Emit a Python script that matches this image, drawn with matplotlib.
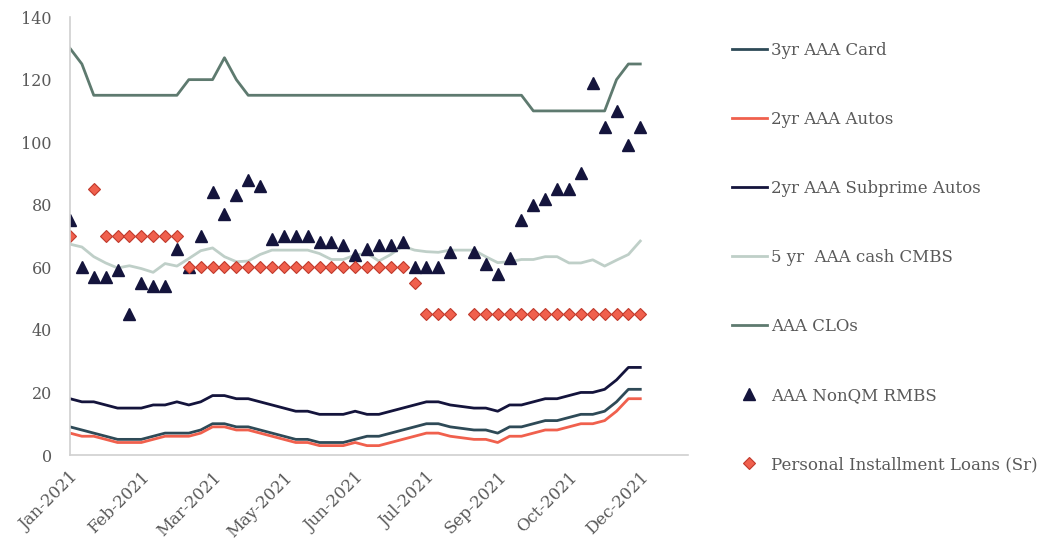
import numpy as np
import pandas as pd
import matplotlib
matplotlib.use("Agg")
import matplotlib.pyplot as plt

plt.rcParams['font.family'] = ['DejaVu Serif']

# weekly observations, Jan-2021 .. Dec-2021
dates = pd.date_range('2021-01-01', periods=49, freq='7D')
nan = np.nan

card_3yr = [9, 8, 7, 6, 5, 5, 5, 6, 7, 7, 7, 8, 10, 10, 9, 9, 8, 7, 6, 5, 5, 4, 4, 4, 5, 6,
            6, 7, 8, 9, 10, 10, 9, 8.5, 8, 8, 7, 9, 9, 10, 11, 11, 12, 13, 13, 14, 17, 21, 21]
autos_2yr = [7, 6, 6, 5, 4, 4, 4, 5, 6, 6, 6, 7, 9, 9, 8, 8, 7, 6, 5, 4, 4, 3, 3, 3, 4, 3,
             3, 4, 5, 6, 7, 7, 6, 5.5, 5, 5, 4, 6, 6, 7, 8, 8, 9, 10, 10, 11, 14, 18, 18]
subprime_2yr = [18, 17, 17, 16, 15, 15, 15, 16, 16, 17, 16, 17, 19, 19, 18, 18, 17, 16, 15, 14, 14, 13, 13, 13, 14, 13,
                13, 14, 15, 16, 17, 17, 16, 15.5, 15, 15, 14, 16, 16, 17, 18, 18, 19, 20, 20, 21, 24, 28, 28]
cmbs_5yr = [67.4, 66.5, 63.4, 61.4, 59.8, 60.5, 59.6, 58.4, 61.2, 60.4, 62.8, 65.3, 66.2, 63.4, 61.8, 62, 64.1,
            65.5, 65.5, 65.5, 65.5, 64.4, 62.5, 62.5, 63.9, 64.5, 62, 64.1, 66.8, 65.5, 65, 64.8, 65.5, 65.5,
            65.5, 63.4, 61.5, 61.8, 62.5, 62.5, 63.4, 63.4, 61.4, 61.4, 62.4, 60.4, 62.3, 64.1, 68.4]
clos = [130, 125, 115, 115, 115, 115, 115, 115, 115, 115, 120, 120, 120, 127, 120,
        115, 115, 115, 115, 115, 115, 115, 115, 115, 115, 115, 115, 115, 115, 115, 115, 115,
        115, 115, 115, 115, 115, 115, 115, 110, 110, 110, 110, 110, 110, 110, 120, 125, 125]
nonqm_rmbs = [75, 60, 57, 57, 59, 45, 55, 54, 54, 66, 60, 70, 84, 77, 83, 88, 86, 69, 70, 70, 70, 68, 68, 67, 64, 66,
              67, 67, 68, 60, 60, 60, 65, nan, 65, 61, 58, 63, 75, 80, 82, 85, 85, 90, 119, 105, 110, 99, 105]
pil_sr = [70, nan, 85, 70, 70, 70, 70, 70, 70, 70, 60, 60, 60, 60, 60, 60, 60, 60, 60, 60, 60, 60, 60, 60, 60, 60,
          60, 60, 60, 55, 45, 45, 45, nan, 45, 45, 45, 45, 45, 45, 45, 45, 45, 45, 45, 45, 45, 45, 45]

tick_idx = list(range(0, 49, 6))
tick_labels = [d.strftime('%b-%Y') for d in dates[tick_idx]]

x = np.arange(len(dates))
grey = '#595959'

fig = plt.figure(figsize=(10.48, 5.42), dpi=100)
ax = fig.add_axes([0.0668, 0.1605, 0.5895, 0.808])

ax.plot(x, card_3yr, color='#2E4A57', lw=2, label='3yr AAA Card')
ax.plot(x, autos_2yr, color='#F0604D', lw=2, label='2yr AAA Autos')
ax.plot(x, subprime_2yr, color='#14143C', lw=2, label='2yr AAA Subprime Autos')
ax.plot(x, cmbs_5yr, color='#BFCFC8', lw=2, label='5 yr  AAA cash CMBS')
ax.plot(x, clos, color='#5E7A6F', lw=2, label='AAA CLOs')
ax.plot(x, nonqm_rmbs, ls='none', marker='^', ms=9, color='#14143C', label='AAA NonQM RMBS')
ax.plot(x, pil_sr, ls='none', marker='D', ms=6.5, mfc='#F0604D', mec='#C0392B', mew=0.8,
        label='Personal Installment Loans (Sr)')

ax.set_xlim(0, 52)
ax.set_ylim(0, 140)
ax.set_yticks(range(0, 141, 20))
ax.set_xticks(tick_idx)
ax.set_xticklabels(tick_labels, rotation=45, ha='right', rotation_mode='anchor')
ax.tick_params(length=0, colors=grey)
ax.tick_params(axis='x', labelsize=12, pad=10)
ax.tick_params(axis='y', labelsize=11.5, pad=13)
for s in ['top', 'right']:
    ax.spines[s].set_visible(False)
for s in ['left', 'bottom']:
    ax.spines[s].set_color('#D0D0D0')
    ax.spines[s].set_linewidth(1.2)

leg = fig.legend(loc='upper left', bbox_to_anchor=(0.692, 0.935), frameon=False,
                 fontsize=12, handlelength=2.1, handletextpad=0.25, labelspacing=3.12,
                 labelcolor=grey, borderaxespad=0)

fig.savefig('out.png', dpi=100)
